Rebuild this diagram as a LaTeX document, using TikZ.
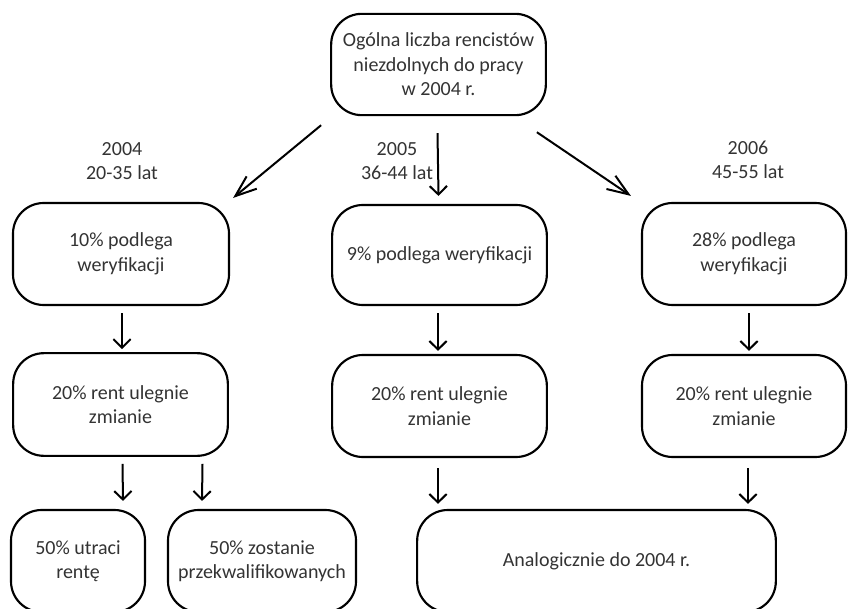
\documentclass[tikz,border=0pt]{standalone}
\usepackage{fontspec}
\setmainfont{Carlito}
\usetikzlibrary{arrows.meta,calc}
\definecolor{txt}{gray}{0.2}
\begin{document}
\begin{tikzpicture}[x=0.75pt,y=-0.75pt,
  box/.style={draw=black,line width=1.6pt,rounded corners=23pt,align=center,
    text=txt,font=\fontsize{15}{18.4}\selectfont,inner sep=0pt},
  lbl/.style={align=center,text=txt,font=\fontsize{15}{18.4}\selectfont,inner sep=0pt},
  arr/.style={line width=1.5pt,-{Straight Barb[length=6.4pt,width=13pt,line width=1.5pt]}},
  darr/.style={line width=1.5pt,-{Straight Barb[length=16pt,width=12pt,line width=1.5pt]}}]
\useasboundingbox (0,0) rectangle (848,609);
% top
\node[box,minimum width=161pt,minimum height=76pt] (top) at (438.5,64.5)
  {Ogólna liczba rencistów\\niezdolnych do pracy\\w 2004 r.};
% row 1
\node[box,minimum width=162pt,minimum height=76.5pt] (b1L) at (121,254) {10\% podlega\\weryfikacji};
\node[box,minimum width=161pt,minimum height=75pt] (b1M) at (439.5,255) {9\% podlega weryfikacji};
\node[box,minimum width=153pt,minimum height=76.5pt] (b1R) at (744,254) {28\% podlega\\weryfikacji};
% row 2
\node[box,minimum width=161pt,minimum height=77pt] (b2L) at (120.5,404.5) {20\% rent ulegnie\\zmianie};
\node[box,minimum width=161pt,minimum height=76.5pt] (b2M) at (439.5,406) {20\% rent ulegnie\\zmianie};
\node[box,minimum width=153pt,minimum height=76.5pt] (b2R) at (744,406) {20\% rent ulegnie\\zmianie};
% row 3
\node[box,minimum width=100.5pt,minimum height=76.5pt] (b3a) at (78,561) {50\% utraci\\rentę};
\node[box,minimum width=141pt,minimum height=76.5pt] (b3b) at (262,561) {50\% zostanie\\przekwalifikowanych};
\node[box,minimum width=269pt,minimum height=76.5pt] (b3c) at (596.5,561) {Analogicznie do 2004 r.};
% labels
\node[lbl] (l04) at (122,161) {2004\\20-35 lat};
\node[lbl] (l05) at (397,161) {2005\\36-44 lat};
\node[lbl] (l06) at (748,160) {2006\\45-55 lat};
% diagonal / top arrows
\draw[darr] ($(top.south west)+(-9,9)$) -- ($(b1L.north east)+(3,-4)$);
\draw[arr] ($(top.south)+(-1,17)$) -- ($(b1M.north)+(-1,-8)$);
\draw[darr] ($(top.south east)+(-10,16)$) -- ($(b1R.north west)+(-10,-6)$);
% row1 -> row2
\draw[arr] ($(b1L.south)+(1,7)$) -- ($(b2L.north)+(1.5,-3)$);
\draw[arr] ($(b1M.south)+(-1.5,7)$) -- ($(b2M.north)+(-1.5,-3)$);
\draw[arr] ($(b1R.south)+(5,7)$) -- ($(b2R.north)+(5,-3)$);
% row2 -> row3
\draw[arr] ($(b2L.south)+(2,7)$) -- ($(b3a.north)+(45,-8)$);
\draw[arr] ($(b2L.south)+(82,7)$) -- ($(b3b.north)+(-60,-8)$);
\draw[arr] ($(b2M.south)+(-1.5,10)$) -- ($(b3c.north)+(-158.5,-5)$);
\draw[arr] ($(b2R.south)+(4,10)$) -- ($(b3c.north)+(151.5,-5)$);
\end{tikzpicture}
\end{document}
